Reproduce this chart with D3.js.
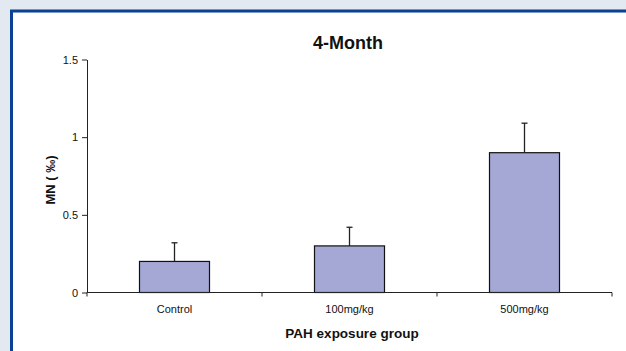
<!DOCTYPE html>
<html>
<head>
<meta charset="utf-8">
<script src="https://cdn.jsdelivr.net/npm/d3@7"></script>
<style>
  html, body { margin: 0; padding: 0; background: #e3e9f1; overflow: hidden; }
  svg { position: absolute; left: 0; top: 0; display: block; font-family: "Liberation Sans", Arial, sans-serif; }
</style>
</head>
<body>
<svg id="chart" width="626" height="351" viewBox="0 0 626 351"></svg>
<script>
// Micronucleus frequency after 4 months, by PAH exposure group
const groups = ["Control", "100mg/kg", "500mg/kg"];
const means = [0.2, 0.3, 0.9];
const errors = [0.12, 0.12, 0.19];
const yTicks = [0, 0.5, 1, 1.5];

const svg = d3.select("#chart");

// page background and framed white panel (open to the right and bottom)
svg.append("rect").attr("width", 626).attr("height", 351).attr("fill", "#e3e9f1");
svg.append("rect")
  .attr("x", 13).attr("y", 12.5)
  .attr("width", 620).attr("height", 345)
  .attr("fill", "#ffffff");
svg.append("path")
  .attr("d", "M11.5,360 V11 H640")
  .attr("fill", "none")
  .attr("stroke", "#0a4196")
  .attr("stroke-width", 3);

const x0 = 87, x1 = 612, yBase = 292.5, yTop = 59.5;

const x = d3.scaleBand().domain(groups).range([x0, x1]).padding(0);
const y = d3.scaleLinear().domain([0, 1.5]).range([yBase, yTop]);
const barW = x.bandwidth() * 0.4;

// bars
svg.append("g").selectAll("rect")
  .data(groups)
  .join("rect")
  .attr("x", d => x(d) + (x.bandwidth() - barW) / 2)
  .attr("y", (d, i) => y(means[i]))
  .attr("width", barW)
  .attr("height", (d, i) => y(0) - y(means[i]))
  .attr("fill", "#a5a8d5")
  .attr("stroke", "#111")
  .attr("stroke-width", 1.2);

// error bars (upper only)
const eb = svg.append("g").attr("stroke", "#222").attr("stroke-width", 1.3);
groups.forEach((g, i) => {
  const cx = x(g) + x.bandwidth() / 2;
  eb.append("line")
    .attr("x1", cx).attr("x2", cx)
    .attr("y1", y(means[i])).attr("y2", y(means[i] + errors[i]));
  eb.append("line")
    .attr("x1", cx - 3).attr("x2", cx + 3)
    .attr("y1", y(means[i] + errors[i])).attr("y2", y(means[i] + errors[i]));
});

// y axis
const yAxis = svg.append("g")
  .attr("transform", `translate(${x0},0)`)
  .call(d3.axisLeft(y).tickValues(yTicks).tickFormat(d3.format("")).tickSize(5).tickSizeOuter(0).tickPadding(4));
yAxis.selectAll("text").attr("font-size", 11).attr("fill", "#111");
yAxis.selectAll("line, path").attr("stroke", "#222");

// x axis: ticks between groups
const xAxis = svg.append("g")
  .attr("transform", `translate(0,${yBase})`);
xAxis.append("line")
  .attr("x1", x0).attr("x2", x1)
  .attr("stroke", "#222");
const boundaries = groups.map(g => x(g)).concat([x1]);
xAxis.selectAll("line.tick")
  .data(boundaries)
  .join("line")
  .attr("class", "tick")
  .attr("x1", d => d).attr("x2", d => d)
  .attr("y1", 0).attr("y2", 4)
  .attr("stroke", "#222");
xAxis.selectAll("text")
  .data(groups)
  .join("text")
  .attr("x", d => x(d) + x.bandwidth() / 2)
  .attr("y", 20.5)
  .attr("text-anchor", "middle")
  .attr("font-size", 11)
  .attr("fill", "#111")
  .text(d => d);

// titles
svg.append("text")
  .attr("x", 348).attr("y", 48.5)
  .attr("text-anchor", "middle")
  .attr("font-size", 18).attr("font-weight", "bold")
  .attr("fill", "#111")
  .text("4-Month");

svg.append("text")
  .attr("x", 352).attr("y", 338)
  .attr("text-anchor", "middle")
  .attr("font-size", 13.5).attr("font-weight", "bold")
  .attr("fill", "#111")
  .text("PAH exposure group");

svg.append("text")
  .attr("transform", "translate(55,180) rotate(-90)")
  .attr("text-anchor", "middle")
  .attr("font-size", 13).attr("font-weight", "bold")
  .attr("fill", "#111")
  .text("MN ( ‰)");
</script>
</body>
</html>
